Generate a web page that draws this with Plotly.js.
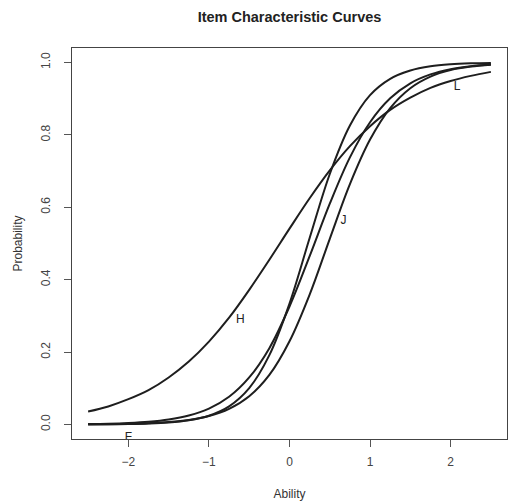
<!DOCTYPE html>
<html>
<head>
<meta charset="utf-8">
<script src="https://cdn.plot.ly/plotly-3.0.1.min.js"></script>
<style>
html,body{margin:0;padding:0;background:#fff;}
#chart{width:509px;height:501px;}
</style>
</head>
<body>
<div id="chart"></div>
<script>
// Ability grid (x) and estimated probabilities
const ability = [-2.5,-2.25,-2,-1.75,-1.5,-1.25,-1,-0.75,-0.5,-0.25,0,0.25,0.5,0.75,1,1.25,1.5,1.75,2,2.25,2.5];
const itemH = [0.036,0.050,0.070,0.095,0.130,0.174,0.229,0.295,0.372,0.455,0.541,0.625,0.702,0.769,0.824,0.869,0.903,0.930,0.949,0.963,0.974];
const itemA = [0.0003,0.0006,0.0012,0.0026,0.0055,0.0117,0.0244,0.0502,0.1006,0.1916,0.334,0.515,0.692,0.826,0.910,0.955,0.978,0.9896,0.9951,0.9977,0.9989];
const itemB = [0.0014,0.0024,0.0044,0.0078,0.0140,0.0249,0.0439,0.0766,0.130,0.211,0.326,0.465,0.610,0.738,0.835,0.901,0.9425,0.967,0.9815,0.9896,0.9942];
const itemJ = [0.0006,0.0010,0.0019,0.0036,0.0068,0.0126,0.0234,0.0431,0.078,0.137,0.230,0.359,0.513,0.664,0.787,0.874,0.929,0.961,0.979,0.9886,0.9939];

// Item labels and where they sit
const labelText = ["F","H","J","L"];
const labelX = [-2.0,-0.61,0.67,2.08];
const labelY = [-0.036,0.288,0.562,0.932];

const xTicks = [-2,-1,0,1,2];
const yTicks = [0,0.2,0.4,0.6,0.8,1];
const yTickText = ["0.0","0.2","0.4","0.6","0.8","1.0"];

const lineStyle = {color:'#1e1e1e', width:2, shape:'spline', smoothing:1};
const curves = [itemH, itemA, itemB, itemJ].map(function(vals){
  return {x: ability, y: vals, type:'scatter', mode:'lines', line: lineStyle, hoverinfo:'skip', showlegend:false};
});
curves.push({
  x: labelX, y: labelY, text: labelText, type:'scatter', mode:'text',
  textposition:'middle center', cliponaxis:true,
  textfont:{family:'Liberation Sans, Arial, sans-serif', size:12, color:'#222'},
  showlegend:false, hoverinfo:'skip'
});

const layout = {
  width:509, height:501,
  margin:{l:72, r:2, t:48, b:62},
  paper_bgcolor:'#fff', plot_bgcolor:'#fff',
  font:{family:'Liberation Sans, Arial, sans-serif', size:12, color:'#333'},
  title:{text:'<b>Item Characteristic Curves</b>', font:{size:14.5, color:'#222'}, x:0.5, xref:'paper', y:0.966, yref:'container', yanchor:'middle'},
  xaxis:{
    range:[-2.7,2.7], tickvals:xTicks, ticks:'outside', ticklen:7, tickcolor:'#555',
    showline:true, linecolor:'#444', linewidth:1, mirror:true, showgrid:false, zeroline:false,
    ticklabelstandoff:5,
    tickfont:{size:12, color:'#444'},
    title:{text:'Ability', font:{size:12, color:'#333'}, standoff:22}
  },
  yaxis:{
    range:[-0.04,1.04], tickvals:yTicks, ticktext:yTickText, ticks:'outside', ticklen:7, tickcolor:'#555',
    showline:true, linecolor:'#444', linewidth:1, mirror:true, showgrid:false, zeroline:false,
    ticklabelstandoff:9,
    tickangle:-90, tickfont:{size:12, color:'#444'},
    title:{text:'Probability', font:{size:12, color:'#333'}, standoff:14}
  }
};
Plotly.newPlot('chart', curves, layout, {displayModeBar:false, staticPlot:true});
</script>
</body>
</html>
